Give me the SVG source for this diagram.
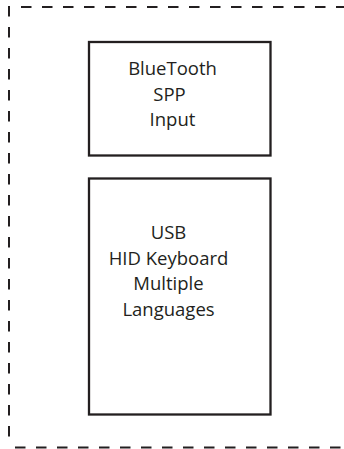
<svg xmlns="http://www.w3.org/2000/svg" width="344" height="449" viewBox="0 0 344 449">
<style>
.frame{fill:none;stroke:#231f20;stroke-width:2;stroke-dasharray:10.5 10.5}
.box{fill:#fff;stroke:#231f20;stroke-width:2.3}
.lbl{font-family:"Open Sans","Noto Sans",sans-serif;font-size:18.5px;fill:#231f20;text-anchor:middle}
</style>
<rect width="344" height="449" fill="#fff"/>
<g id="frame">
<line class="frame" x1="9" y1="6" x2="9" y2="446"/>
<line class="frame" x1="21" y1="7" x2="344" y2="7"/>
<line class="frame" x1="15" y1="447.5" x2="344" y2="447.5"/>
</g>
<g id="node-bluetooth">
<rect class="box" x="89" y="42" width="181.5" height="113.5"/>
<text class="lbl" x="172.5" y="75">BlueTooth</text>
<text class="lbl" x="169.5" y="100.5">SPP</text>
<text class="lbl" x="172.5" y="126">Input</text>
</g>
<g id="node-usb">
<rect class="box" x="89" y="178.5" width="181.5" height="236"/>
<text class="lbl" x="168.5" y="239">USB</text>
<text class="lbl" x="168.5" y="264.5">HID Keyboard</text>
<text class="lbl" x="168.5" y="290">Multiple</text>
<text class="lbl" x="168.5" y="315.5">Languages</text>
</g>
<g id="connectors"></g>
</svg>
